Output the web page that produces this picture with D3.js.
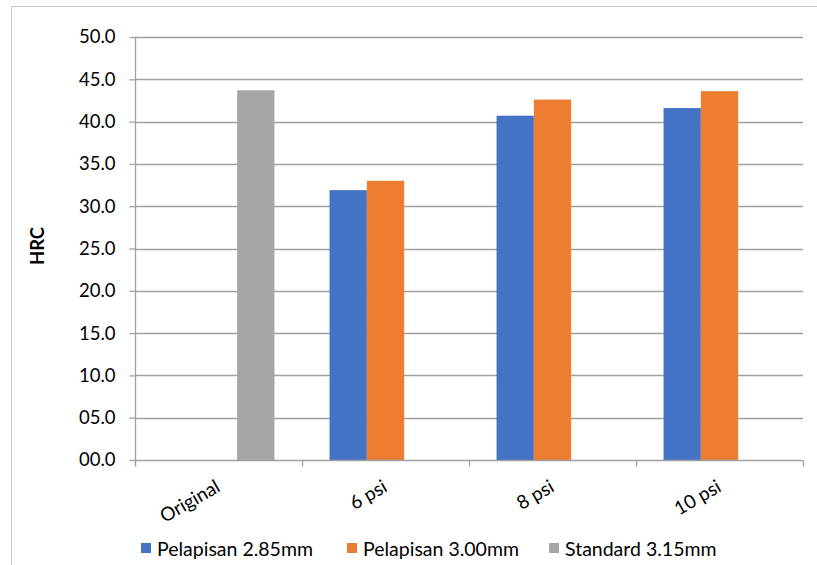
<!DOCTYPE html>
<html>
<head>
<meta charset="utf-8">
<script src="https://cdn.jsdelivr.net/npm/d3@7"></script>
<style>
  html, body { margin: 0; padding: 0; background: #fff; }
  svg { display: block; font-family: Lato, "Open Sans", sans-serif; }
</style>
</head>
<body>
<svg id="chart" width="817" height="565"></svg>
<script>
const categories = ["Original", "6 psi", "8 psi", "10 psi"];
const seriesNames = ["Pelapisan 2.85mm", "Pelapisan 3.00mm", "Standard 3.15mm"];
const pelapisan285 = [null, 31.9, 40.7, 41.6];
const pelapisan300 = [null, 33.0, 42.6, 43.6];
const standard315 = [43.7, null, null, null];
const yTicks = [0, 5, 10, 15, 20, 25, 30, 35, 40, 45, 50];
const yLabel = "HRC";
const colors = ["#4472C4", "#ED7D31", "#A5A5A5"];

const seriesValues = [pelapisan285, pelapisan300, standard315];

const svg = d3.select("#chart");
const W = 817, H = 565;
const m = { left: 135, right: 14, top: 37, bottom: 105 };
const plotW = W - m.left - m.right;   // 668
const plotH = H - m.top - m.bottom;   // 423

// chart frame (left and top edges visible)
svg.append("rect")
  .attr("x", 11.5).attr("y", 6.5)
  .attr("width", W + 10).attr("height", H + 10)
  .attr("fill", "none").attr("stroke", "#c8c8c8").attr("stroke-width", 1);

const g = svg.append("g").attr("transform", `translate(${m.left},${m.top})`);

const y = d3.scaleLinear().domain([0, 50]).range([plotH, 0]);
const x0 = d3.scaleBand().domain(categories).range([0, plotW]).paddingInner(0).paddingOuter(0);
const gap = x0.bandwidth() * 0.33;
const x1 = d3.scaleBand().domain(seriesNames).range([gap / 2, x0.bandwidth() - gap / 2]).padding(0);

// gridlines
g.append("g")
  .selectAll("line")
  .data(yTicks.filter(d => d > 0))
  .join("line")
  .attr("x1", 0).attr("x2", plotW)
  .attr("y1", d => Math.round(y(d)) + 0.5).attr("y2", d => Math.round(y(d)) + 0.5)
  .attr("stroke", "#a0a0a0").attr("stroke-width", 1.3);

// bars
const rows = [];
seriesValues.forEach((vals, si) => {
  vals.forEach((v, ci) => {
    if (v !== null) rows.push({ cat: categories[ci], s: seriesNames[si], v, c: colors[si] });
  });
});
g.append("g")
  .selectAll("rect")
  .data(rows)
  .join("rect")
  .attr("x", d => x0(d.cat) + x1(d.s))
  .attr("width", x1.bandwidth())
  .attr("y", d => y(d.v))
  .attr("height", d => y(0) - y(d.v))
  .attr("fill", d => d.c);

// y axis
const yAxis = d3.axisLeft(y).tickValues(yTicks).tickSize(6).tickPadding(14)
  .tickFormat(d => d3.format("04.1f")(d));
const ya = g.append("g").attr("transform", "translate(0.5,0)").call(yAxis);
ya.select(".domain").attr("stroke", "#a0a0a0").attr("stroke-width", 1.3).attr("d", `M0,${plotH + 6}V0`);
ya.selectAll(".tick line").attr("stroke", "#a0a0a0").attr("stroke-width", 1.3);
ya.selectAll(".tick text").attr("font-size", 18.5).attr("fill", "#000")
  .attr("font-family", "Lato, 'Open Sans', sans-serif");

// x axis
const xa = g.append("g").attr("transform", `translate(0,${Math.round(plotH) + 0.5})`);
xa.append("line").attr("x1", 0).attr("x2", plotW).attr("stroke", "#a0a0a0").attr("stroke-width", 1.3);
const bounds = categories.map(c => x0(c)).concat([plotW]);
xa.selectAll("line.tk").data(bounds).join("line").attr("class", "tk")
  .attr("x1", d => Math.round(d) + 0.5).attr("x2", d => Math.round(d) + 0.5)
  .attr("y1", 0).attr("y2", 6).attr("stroke", "#a0a0a0").attr("stroke-width", 1.3);
xa.selectAll("text").data(categories).join("text")
  .attr("text-anchor", "end")
  .attr("transform", d => `translate(${x0(d) + x0.bandwidth() / 2 + 3},${30}) rotate(-30)`)
  .attr("font-size", 19).attr("fill", "#000")
  .text(d => d);

// y label
svg.append("text")
  .attr("transform", `translate(44,246) rotate(-90)`)
  .attr("text-anchor", "middle")
  .attr("font-weight", "bold").attr("font-size", 18.5).attr("fill", "#000")
  .text(yLabel);

// legend
const legendX = [141, 347, 549];
const lg = svg.append("g");
seriesNames.forEach((n, i) => {
  lg.append("rect").attr("x", legendX[i]).attr("y", 543).attr("width", 10).attr("height", 10).attr("fill", colors[i]);
  lg.append("text").attr("x", legendX[i] + 16).attr("y", 556)
    .attr("font-size", 19.5).attr("fill", "#000").text(n);
});
</script>
</body>
</html>
